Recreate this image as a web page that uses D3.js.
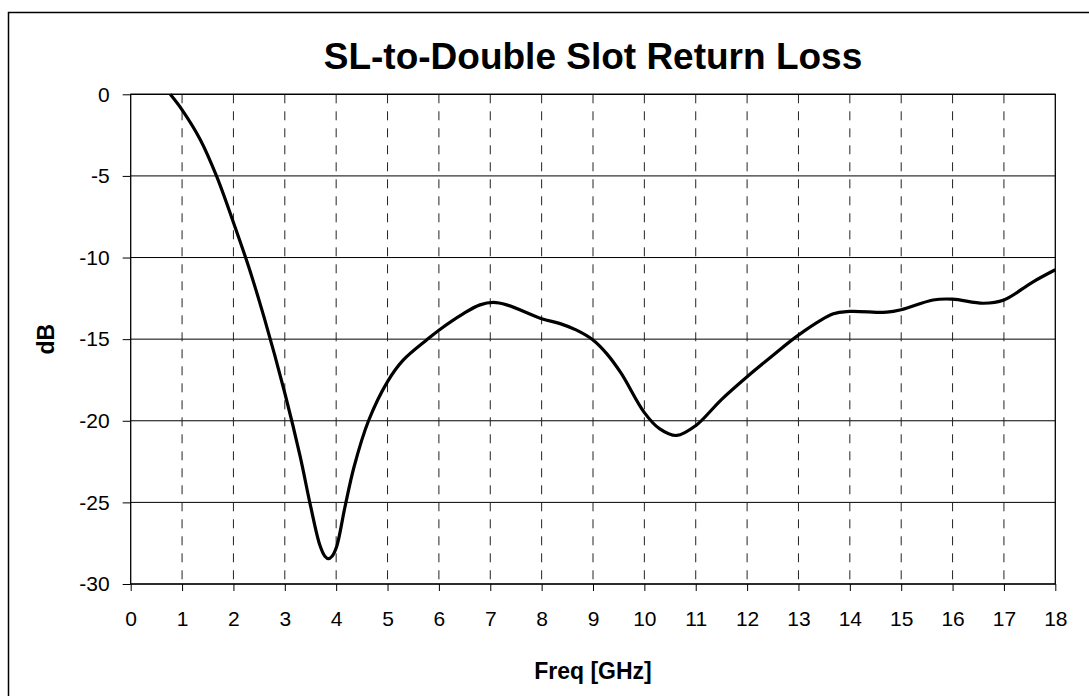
<!DOCTYPE html>
<html>
<head>
<meta charset="utf-8">
<script src="https://cdn.jsdelivr.net/npm/d3@7"></script>
<style>
  body { margin: 0; background: #fff; }
  svg { display: block; font-family: "Liberation Sans", Arial, sans-serif; }
</style>
</head>
<body>
<svg id="chart" width="1089" height="696"></svg>
<script>
// values
const freq = [0.77, 1.0, 1.35, 1.67, 2.0, 2.3, 2.6, 3.0, 3.3, 3.5, 3.68, 3.78, 3.85, 3.92,
  4.01, 4.17, 4.35, 4.63, 5.0, 5.3, 5.76, 6.0, 6.47, 6.8, 7.06, 7.32, 8.0, 8.36, 8.68, 9.0,
  9.27, 9.55, 10.0, 10.3, 10.63, 11.0, 11.5, 12.0, 12.5, 13.0, 13.68, 14.0, 14.72, 15.0,
  15.62, 16.0, 16.6, 17.0, 17.56, 18.0];
const returnLoss = [0, -0.95, -2.75, -5.0, -7.85, -10.6, -13.7, -18.3, -22.2, -25.2, -27.6, -28.3, -28.45, -28.3,
  -27.7, -25.3, -22.8, -20.0, -17.6, -16.3, -15.05, -14.45, -13.45, -12.9, -12.75, -12.9, -13.75, -14.05, -14.45, -15.05,
  -15.9, -17.1, -19.5, -20.5, -20.9, -20.3, -18.7, -17.3, -16.0, -14.75, -13.45, -13.3, -13.35, -13.2,
  -12.6, -12.55, -12.8, -12.6, -11.5, -10.75];
const xTicks = d3.range(0, 19, 1);
const yTicks = [0, -5, -10, -15, -20, -25, -30];

const title = 'SL-to-Double Slot Return Loss',
  xTitle = 'Freq [GHz]',
  yTitle = 'dB';

let
  svg = d3.select('#chart'),
  margin = {top: 94.3, right: 1089 - 1055.3, bottom: 696 - 584, left: 130.7},
  x = d3.scaleLinear().domain([0, 18]).range([margin.left, 1089 - margin.right]),
  y = d3.scaleLinear().domain([-30, 0]).range([696 - margin.bottom, margin.top]),
  data = freq.map((f, i) => ({f: f, v: returnLoss[i]})),
  fmt = d => String(d)   // plain hyphen, not the unicode minus
  ;

// outer chart frame (runs past the bottom/right edge like the source)
svg.append('rect')
  .attr('x', 8.5).attr('y', 12.5)
  .attr('width', 1200).attr('height', 800)
  .attr('fill', 'none').attr('stroke', '#000').attr('stroke-width', 1.5);

// horizontal grid
svg.append('g')
  .selectAll('line')
  .data(yTicks)
  .join('line')
  .attr('x1', x(0)).attr('x2', x(18))
  .attr('y1', d => y(d)).attr('y2', d => y(d))
  .attr('stroke', '#000').attr('stroke-width', 1);

// vertical dashed grid
svg.append('g')
  .selectAll('line')
  .data(xTicks.filter(d => d > 0 && d < 18))
  .join('line')
  .attr('x1', d => x(d)).attr('x2', d => x(d))
  .attr('y1', y(0)).attr('y2', y(-30))
  .attr('stroke', '#222').attr('stroke-width', 1)
  .attr('stroke-dasharray', '9,8');

// plot frame
svg.append('rect')
  .attr('x', x(0)).attr('y', y(0))
  .attr('width', x(18) - x(0)).attr('height', y(-30) - y(0))
  .attr('fill', 'none').attr('stroke', '#000').attr('stroke-width', 1.3);

// axes
svg.append('g')
  .attr('transform', `translate(0,${y(-30)})`)
  .call(d3.axisBottom(x).tickValues(xTicks).tickSize(7).tickPadding(20).tickFormat(fmt))
  .call(g => g.select('.domain').remove())
  .call(g => g.selectAll('text').attr('font-size', 21).attr('font-family', '"Liberation Sans", Arial, sans-serif').attr('fill', '#000'));

svg.append('g')
  .attr('transform', `translate(${x(0)},0)`)
  .call(d3.axisLeft(y).tickValues(yTicks).tickSize(8).tickPadding(13).tickFormat(fmt))
  .call(g => g.select('.domain').remove())
  .call(g => g.selectAll('text').attr('font-size', 21).attr('font-family', '"Liberation Sans", Arial, sans-serif').attr('fill', '#000'));

// curve
svg.append('path')
  .datum(data)
  .attr('fill', 'none')
  .attr('stroke', '#000')
  .attr('stroke-width', 3.2)
  .attr('stroke-linejoin', 'round')
  .attr('d', d3.line().x(d => x(d.f)).y(d => y(d.v)).curve(d3.curveCatmullRom.alpha(0.5)));

// titles
svg.append('text')
  .attr('x', (x(0) + x(18)) / 2).attr('y', 69)
  .attr('text-anchor', 'middle')
  .attr('font-size', 37).attr('font-weight', 'bold')
  .text(title);

svg.append('text')
  .attr('x', (x(0) + x(18)) / 2).attr('y', 679)
  .attr('text-anchor', 'middle')
  .attr('font-size', 23).attr('font-weight', 'bold')
  .text(xTitle);

svg.append('text')
  .attr('transform', `translate(54,${(y(0) + y(-30)) / 2}) rotate(-90)`)
  .attr('text-anchor', 'middle')
  .attr('font-size', 23).attr('font-weight', 'bold')
  .text(yTitle);
</script>
</body>
</html>
